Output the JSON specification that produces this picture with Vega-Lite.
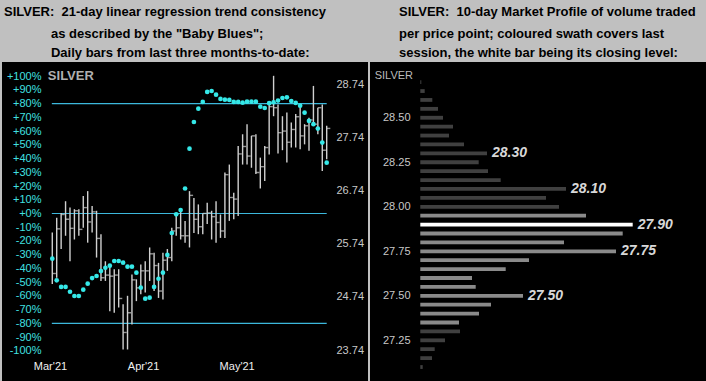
{
  "$schema": "https://vega.github.io/schema/vega-lite/v6.json",
  "background": "#c0c0c0",
  "padding": {"left": 2, "top": 5, "right": 0, "bottom": 0},
  "spacing": 2,
  "config": {
    "view": {"fill": "#000000", "stroke": null},
    "font": "Liberation Sans",
    "title": {
      "anchor": "start", "frame": "group", "font": "Liberation Sans", "fontSize": 13, "fontWeight": "bold", "color": "#000000",
      "subtitleFont": "Liberation Sans", "subtitleFontSize": 13, "subtitleFontWeight": "bold", "subtitleColor": "#000000",
      "subtitleLineHeight": 19.5, "subtitlePadding": 8.6, "offset": 2
    }
  },
  "hconcat": [
    {
      "width": 366,
      "height": 320,
      "title": {
        "text": "SILVER:\u00a0 21-day linear regression trend consistency",
        "subtitle": [
          "\u200b\u00a0\u00a0\u00a0\u00a0\u00a0\u00a0\u00a0\u00a0\u00a0\u00a0\u00a0\u00a0\u00a0as described by the \"Baby Blues\";",
          "\u200b\u00a0\u00a0\u00a0\u00a0\u00a0\u00a0\u00a0\u00a0\u00a0\u00a0\u00a0\u00a0\u00a0Daily bars from last three months-to-date:"
        ],
        "dx": 2
      },
      "data": {"values": [
        {"i": 0, "lo": 24.98, "hi": 25.95, "cl": 25.18, "pct": -32.9},
        {"i": 1, "lo": 25.10, "hi": 26.23, "cl": 26.02, "pct": -48.7},
        {"i": 2, "lo": 25.64, "hi": 26.32, "cl": 26.29, "pct": -53.5},
        {"i": 3, "lo": 25.89, "hi": 26.54, "cl": 26.20, "pct": -53.5},
        {"i": 4, "lo": 25.41, "hi": 26.42, "cl": 26.03, "pct": -57.0},
        {"i": 5, "lo": 25.82, "hi": 26.39, "cl": 26.36, "pct": -60.1},
        {"i": 6, "lo": 25.89, "hi": 26.39, "cl": 26.01, "pct": -60.1},
        {"i": 7, "lo": 26.04, "hi": 26.64, "cl": 26.42, "pct": -55.5},
        {"i": 8, "lo": 25.76, "hi": 26.73, "cl": 26.15, "pct": -51.1},
        {"i": 9, "lo": 25.95, "hi": 26.45, "cl": 26.34, "pct": -47.0},
        {"i": 10, "lo": 25.48, "hi": 26.36, "cl": 25.84, "pct": -45.5},
        {"i": 11, "lo": 25.04, "hi": 25.92, "cl": 25.10, "pct": -41.9},
        {"i": 12, "lo": 25.04, "hi": 25.41, "cl": 25.15, "pct": -39.5},
        {"i": 13, "lo": 24.47, "hi": 25.35, "cl": 25.13, "pct": -38.0},
        {"i": 14, "lo": 24.44, "hi": 25.26, "cl": 25.15, "pct": -34.6},
        {"i": 15, "lo": 24.54, "hi": 25.26, "cl": 24.71, "pct": -34.6},
        {"i": 16, "lo": 23.75, "hi": 24.60, "cl": 24.07, "pct": -35.8},
        {"i": 17, "lo": 23.75, "hi": 24.76, "cl": 24.44, "pct": -38.7},
        {"i": 18, "lo": 24.22, "hi": 25.16, "cl": 25.06, "pct": -38.7},
        {"i": 19, "lo": 24.66, "hi": 25.07, "cl": 24.91, "pct": -43.1},
        {"i": 20, "lo": 24.79, "hi": 25.35, "cl": 25.23, "pct": -54.0},
        {"i": 21, "lo": 24.82, "hi": 25.41, "cl": 25.23, "pct": -62.0},
        {"i": 22, "lo": 25.04, "hi": 25.67, "cl": 25.55, "pct": -61.3},
        {"i": 23, "lo": 24.85, "hi": 25.57, "cl": 25.33, "pct": -53.5},
        {"i": 24, "lo": 24.72, "hi": 25.38, "cl": 24.85, "pct": -47.5},
        {"i": 25, "lo": 24.69, "hi": 25.57, "cl": 25.43, "pct": -43.1},
        {"i": 26, "lo": 25.23, "hi": 25.64, "cl": 25.48, "pct": -30.2},
        {"i": 27, "lo": 25.41, "hi": 26.04, "cl": 25.98, "pct": -14.2},
        {"i": 28, "lo": 25.89, "hi": 26.32, "cl": 26.04, "pct": -0.6},
        {"i": 29, "lo": 25.82, "hi": 26.39, "cl": 25.89, "pct": 2.5},
        {"i": 30, "lo": 25.76, "hi": 26.17, "cl": 25.89, "pct": 18.2},
        {"i": 31, "lo": 25.67, "hi": 26.73, "cl": 26.65, "pct": 47.2},
        {"i": 32, "lo": 25.94, "hi": 26.60, "cl": 26.20, "pct": 66.6},
        {"i": 33, "lo": 25.92, "hi": 26.48, "cl": 26.06, "pct": 76.3},
        {"i": 34, "lo": 25.92, "hi": 26.31, "cl": 26.31, "pct": 81.2},
        {"i": 35, "lo": 26.11, "hi": 26.51, "cl": 26.32, "pct": 88.5},
        {"i": 36, "lo": 25.82, "hi": 26.36, "cl": 26.25, "pct": 89.2},
        {"i": 37, "lo": 25.76, "hi": 26.54, "cl": 26.14, "pct": 86.5},
        {"i": 38, "lo": 25.85, "hi": 26.29, "cl": 25.98, "pct": 83.4},
        {"i": 39, "lo": 25.85, "hi": 27.08, "cl": 27.04, "pct": 82.9},
        {"i": 40, "lo": 26.17, "hi": 27.23, "cl": 26.61, "pct": 82.7},
        {"i": 41, "lo": 26.20, "hi": 26.70, "cl": 26.58, "pct": 81.2},
        {"i": 42, "lo": 26.26, "hi": 27.58, "cl": 27.43, "pct": 81.2},
        {"i": 43, "lo": 27.23, "hi": 27.80, "cl": 27.57, "pct": 80.7},
        {"i": 44, "lo": 27.23, "hi": 27.99, "cl": 27.39, "pct": 81.4},
        {"i": 45, "lo": 27.17, "hi": 27.77, "cl": 27.77, "pct": 81.4},
        {"i": 46, "lo": 27.05, "hi": 27.80, "cl": 27.08, "pct": 81.4},
        {"i": 47, "lo": 26.78, "hi": 27.36, "cl": 27.19, "pct": 77.8},
        {"i": 48, "lo": 26.92, "hi": 27.58, "cl": 27.55, "pct": 76.8},
        {"i": 49, "lo": 27.42, "hi": 28.39, "cl": 28.32, "pct": 80.3},
        {"i": 50, "lo": 28.14, "hi": 28.90, "cl": 28.30, "pct": 81.0},
        {"i": 51, "lo": 27.44, "hi": 28.36, "cl": 27.83, "pct": 82.2},
        {"i": 52, "lo": 27.50, "hi": 28.14, "cl": 27.86, "pct": 84.1},
        {"i": 53, "lo": 27.27, "hi": 28.21, "cl": 27.65, "pct": 84.6},
        {"i": 54, "lo": 27.55, "hi": 28.02, "cl": 27.89, "pct": 81.9},
        {"i": 55, "lo": 27.55, "hi": 28.18, "cl": 28.13, "pct": 80.5},
        {"i": 56, "lo": 27.52, "hi": 28.33, "cl": 27.77, "pct": 78.5},
        {"i": 57, "lo": 27.61, "hi": 27.99, "cl": 27.96, "pct": 73.4},
        {"i": 58, "lo": 27.49, "hi": 28.11, "cl": 28.07, "pct": 67.4},
        {"i": 59, "lo": 27.99, "hi": 28.71, "cl": 27.99, "pct": 65.0},
        {"i": 60, "lo": 27.80, "hi": 28.30, "cl": 28.30, "pct": 61.8},
        {"i": 61, "lo": 27.11, "hi": 28.36, "cl": 27.50, "pct": 51.6},
        {"i": 62, "lo": 27.33, "hi": 27.96, "cl": 27.91, "pct": 37.0}
      ]},
      "resolve": {"scale": {"y": "independent"}},
      "layer": [
        {
          "data": {"values": [{"pct": 80, "from": -0.1, "to": 62}, {"pct": 0, "from": -0.1, "to": 62}, {"pct": -80, "from": -0.1, "to": 62}]},
          "mark": {"type": "rule", "color": "#3cb8dc", "strokeWidth": 1.2},
          "encoding": {
            "y": {"field": "pct", "type": "quantitative",
              "scale": {"domain": [-122.7, 110.3], "nice": false, "zero": false},
              "axis": {"orient": "left", "offset": -41, "values": [-100, -90, -80, -70, -60, -50, -40, -30, -20, -10, 0, 10, 20, 30, 40, 50, 60, 70, 80, 90, 100],
                "labelExpr": "(datum.value >= 0 ? '+' : '') + datum.value + '%'",
                "labelColor": "#40e0e0", "labelFontSize": 11, "labelPadding": 2, "ticks": false, "tickSize": 0,
                "domain": false, "grid": false, "title": null, "labelOverlap": false}},
            "x": {"field": "from", "type": "quantitative", "scale": {"domain": [-11.36, 71.33], "nice": false, "zero": false}},
            "x2": {"field": "to"}
          }
        },
        {
          "mark": {"type": "rule", "color": "#d0d0d0", "strokeWidth": 1.4},
          "encoding": {
            "x": {"field": "i", "type": "quantitative", "scale": {"domain": [-11.36, 71.33], "nice": false, "zero": false},
              "axis": {"orient": "bottom", "offset": -22, "values": [-0.52, 20.5, 41.66],
                "labelExpr": "datum.value < 10 ? \"Mar'21\" : datum.value < 30 ? \"Apr'21\" : \"May'21\"",
                "labelColor": "#f0f0f0", "labelFontSize": 11, "labelPadding": 0, "ticks": false, "tickSize": 0,
                "domain": false, "grid": false, "title": null, "labelFlush": false, "labelOverlap": false}},
            "y": {"field": "lo", "type": "quantitative", "scale": {"domain": [23.138, 29.16], "nice": false, "zero": false},
              "axis": {"orient": "right", "offset": -32, "values": [23.74, 24.74, 25.74, 26.74, 27.74, 28.74], "format": ".2f",
                "labelColor": "#c8c8c8", "labelFontSize": 11, "labelPadding": 0, "ticks": false, "tickSize": 0,
                "domain": false, "grid": false, "title": null, "labelAlign": "left", "labelOverlap": false}},
            "y2": {"field": "hi"}
          }
        },
        {
          "mark": {"type": "tick", "orient": "horizontal", "size": 3.6, "thickness": 1.4, "xOffset": 1.8, "color": "#d0d0d0"},
          "encoding": {
            "x": {"field": "i", "type": "quantitative", "scale": {"domain": [-11.36, 71.33], "nice": false, "zero": false}},
            "y": {"field": "cl", "type": "quantitative", "scale": {"domain": [23.138, 29.16], "nice": false, "zero": false}, "axis": null}
          }
        },
        {
          "mark": {"type": "circle", "color": "#35e8e8", "size": 22, "opacity": 1},
          "encoding": {
            "x": {"field": "i", "type": "quantitative", "scale": {"domain": [-11.36, 71.33], "nice": false, "zero": false}},
            "y": {"field": "pct", "type": "quantitative", "scale": {"domain": [-122.7, 110.3], "nice": false, "zero": false}, "axis": null}
          }
        },
        {
          "data": {"values": [{"name": "SILVER", "i": -1, "pct": 100}]},
          "mark": {"type": "text", "align": "left", "baseline": "middle", "fontSize": 13, "fontWeight": "bold", "color": "#b0b0b0"},
          "encoding": {
            "x": {"field": "i", "type": "quantitative", "scale": {"domain": [-11.36, 71.33], "nice": false, "zero": false}},
            "y": {"field": "pct", "type": "quantitative", "scale": {"domain": [-122.7, 110.3], "nice": false, "zero": false}, "axis": null},
            "text": {"field": "name"}
          }
        }
      ]
    },
    {
      "width": 336,
      "height": 320,
      "title": {
        "text": "SILVER:\u00a0 10-day Market Profile of volume traded",
        "subtitle": ["per price point; coloured swath covers last", "session, the white bar being its closing level:"],
        "dx": 29
      },
      "data": {"values": [
        {"price": 28.70, "vol": 1, "seg": "outside"},
        {"price": 28.65, "vol": 4.4, "seg": "outside"},
        {"price": 28.60, "vol": 12, "seg": "outside"},
        {"price": 28.55, "vol": 17.7, "seg": "outside"},
        {"price": 28.50, "vol": 22.7, "seg": "outside"},
        {"price": 28.45, "vol": 32.7, "seg": "outside"},
        {"price": 28.40, "vol": 28.7, "seg": "outside"},
        {"price": 28.35, "vol": 43.7, "seg": "outside"},
        {"price": 28.30, "vol": 66.7, "seg": "outside", "label": "28.30"},
        {"price": 28.25, "vol": 58.4, "seg": "outside"},
        {"price": 28.20, "vol": 67.7, "seg": "outside"},
        {"price": 28.15, "vol": 80.4, "seg": "outside"},
        {"price": 28.10, "vol": 145.7, "seg": "outside", "label": "28.10"},
        {"price": 28.05, "vol": 125.7, "seg": "outside"},
        {"price": 28.00, "vol": 138.7, "seg": "outside"},
        {"price": 27.95, "vol": 165.7, "seg": "session"},
        {"price": 27.90, "vol": 212.4, "seg": "close", "label": "27.90"},
        {"price": 27.85, "vol": 202.4, "seg": "session"},
        {"price": 27.80, "vol": 143.7, "seg": "session"},
        {"price": 27.75, "vol": 195.7, "seg": "session", "label": "27.75"},
        {"price": 27.70, "vol": 108.7, "seg": "session"},
        {"price": 27.65, "vol": 85.4, "seg": "session"},
        {"price": 27.60, "vol": 51.7, "seg": "session"},
        {"price": 27.55, "vol": 55.4, "seg": "session"},
        {"price": 27.50, "vol": 102.7, "seg": "session", "label": "27.50"},
        {"price": 27.45, "vol": 70.7, "seg": "session"},
        {"price": 27.40, "vol": 58.7, "seg": "session"},
        {"price": 27.35, "vol": 38.7, "seg": "session"},
        {"price": 27.30, "vol": 39.7, "seg": "outside"},
        {"price": 27.25, "vol": 24.7, "seg": "outside"},
        {"price": 27.20, "vol": 14.4, "seg": "outside"},
        {"price": 27.15, "vol": 11.7, "seg": "outside"},
        {"price": 27.10, "vol": 2.4, "seg": "outside"}
      ]},
      "layer": [
        {
          "mark": {"type": "bar", "orient": "horizontal", "height": 3.8},
          "encoding": {
            "y": {"field": "price", "type": "quantitative", "scale": {"domain": [27.044, 28.785], "nice": false, "zero": false},
              "axis": {"orient": "left", "offset": -42, "values": [27.25, 27.5, 27.75, 28, 28.25, 28.5], "format": ".2f",
                "labelColor": "#c8c8c8", "labelFontSize": 11, "labelPadding": 2, "ticks": false, "tickSize": 0,
                "domain": false, "grid": false, "title": null, "labelOverlap": false}},
            "x": {"field": "vol", "type": "quantitative", "scale": {"domain": [-50.3, 285.7], "nice": false, "zero": false}, "axis": null},
            "color": {"field": "seg", "type": "nominal", "scale": {"domain": ["outside", "session", "close"], "range": ["#404040", "#8a8a8a", "#ffffff"]}, "legend": null}
          }
        },
        {
          "transform": [{"filter": "datum.label != null"}],
          "mark": {"type": "text", "align": "left", "baseline": "middle", "dx": 5, "fontSize": 14, "fontWeight": "bold", "fontStyle": "italic", "color": "#d8d8d8"},
          "encoding": {
            "y": {"field": "price", "type": "quantitative"},
            "x": {"field": "vol", "type": "quantitative"},
            "text": {"field": "label"}
          }
        },
        {
          "data": {"values": [{"name": "SILVER", "vol": -45.6, "price": 28.732}]},
          "mark": {"type": "text", "align": "left", "baseline": "middle", "fontSize": 11, "color": "#bbbbbb"},
          "encoding": {
            "x": {"field": "vol", "type": "quantitative"},
            "y": {"field": "price", "type": "quantitative"},
            "text": {"field": "name"}
          }
        }
      ]
    }
  ]
}
